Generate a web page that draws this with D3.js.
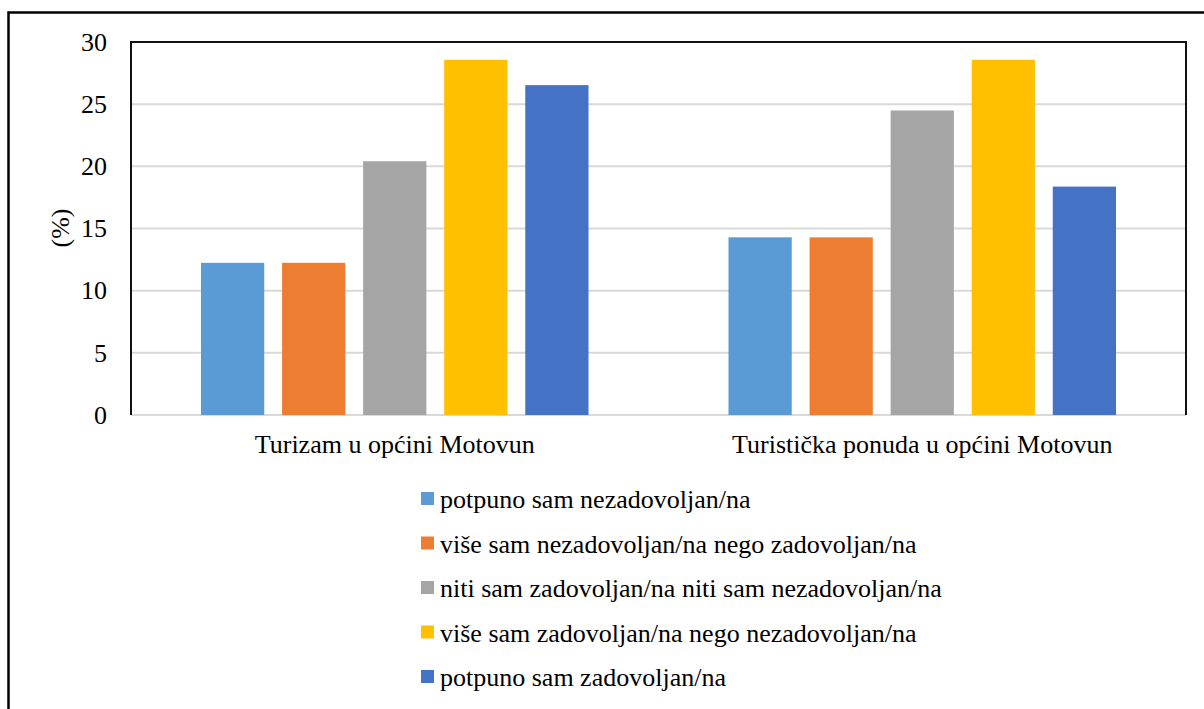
<!DOCTYPE html>
<html>
<head>
<meta charset="utf-8">
<script src="https://cdn.jsdelivr.net/npm/d3@7"></script>
<style>
  body { margin: 0; background: #fff; }
  text { font-family: "Liberation Serif", "Times New Roman", serif; fill: #000; }
</style>
</head>
<body>
<script>
let categories = ['Turizam u općini Motovun', 'Turistička ponuda u općini Motovun']
let seriesNames = [
  'potpuno sam nezadovoljan/na',
  'više sam nezadovoljan/na nego zadovoljan/na',
  'niti sam zadovoljan/na niti sam nezadovoljan/na',
  'više sam zadovoljan/na nego nezadovoljan/na',
  'potpuno sam zadovoljan/na'
]
let turizam = [12.24, 12.24, 20.41, 28.57, 26.53]
let ponuda = [14.29, 14.29, 24.49, 28.57, 18.37]
let yTicks = [0, 5, 10, 15, 20, 25, 30]
let colors = ['#5b9bd5', '#ed7d31', '#a5a5a5', '#ffc000', '#4472c4']

let values = [turizam, ponuda]

let w = 1204
let h = 709
let plotLeft = 131, plotRight = 1186, plotTop = 42, plotBottom = 415

let svg = d3.select('body').append('svg').attr('width', w).attr('height', h)

// outer frame
svg.append('rect').attr('x', 8.5).attr('y', 12.5).attr('width', 1200).attr('height', 720)
  .attr('fill', 'none').attr('stroke', '#000').attr('stroke-width', 2.5)

let x0 = d3.scaleBand().domain(categories).range([plotLeft, plotRight])
let x1 = d3.scaleBand().domain(d3.range(seriesNames.length))
  .range([70, x0.bandwidth() - 70]).paddingInner(0.22)
let y = d3.scaleLinear().domain([0, 30]).range([plotBottom, plotTop])
let color = d3.scaleOrdinal().domain(d3.range(5)).range(colors)

// gridlines
svg.append('g').selectAll('line').data(yTicks).enter().append('line')
  .attr('x1', plotLeft).attr('x2', plotRight)
  .attr('y1', d => y(d)).attr('y2', d => y(d))
  .attr('stroke', '#d9d9d9').attr('stroke-width', 2)

// bars
let groups = svg.selectAll('g.cat').data(categories).enter().append('g')
  .attr('class', 'cat')
  .attr('transform', d => 'translate(' + x0(d) + ',0)')

groups.selectAll('rect').data((d, i) => values[i]).enter().append('rect')
  .attr('x', (d, i) => x1(i))
  .attr('width', x1.bandwidth())
  .attr('y', d => y(d))
  .attr('height', d => y(0) - y(d))
  .attr('fill', (d, i) => color(i))

// plot frame (left, top, right)
svg.append('path')
  .attr('d', 'M' + plotLeft + ',' + plotBottom + 'V' + plotTop + 'H' + plotRight + 'V' + plotBottom)
  .attr('fill', 'none').attr('stroke', '#111').attr('stroke-width', 2)

// y axis
let yAxis = svg.append('g').attr('transform', 'translate(' + plotLeft + ',0)')
  .call(d3.axisLeft(y).tickValues(yTicks).tickSize(0).tickPadding(24))
yAxis.select('.domain').remove()
yAxis.selectAll('text').style('font-size', '26px')
  .style('font-family', '"Liberation Serif", serif').attr('fill', '#000')

svg.append('text')
  .attr('transform', 'translate(69,228) rotate(-90)')
  .attr('text-anchor', 'middle')
  .style('font-size', '26px')
  .text('(%)')

// x axis
let xAxis = svg.append('g').attr('transform', 'translate(0,' + plotBottom + ')')
  .call(d3.axisBottom(x0).tickSize(0).tickPadding(20))
xAxis.select('.domain').remove()
xAxis.selectAll('text').style('font-size', '26px')
  .style('font-family', '"Liberation Serif", serif').attr('fill', '#000')

// legend
let legend = svg.selectAll('g.legend').data(seriesNames).enter().append('g')
  .attr('class', 'legend')
  .attr('transform', (d, i) => 'translate(421,' + (499 + i * 44.5) + ')')

legend.append('rect').attr('x', 0).attr('y', -7).attr('width', 13).attr('height', 13)
  .attr('fill', (d, i) => color(i))
legend.append('text').attr('x', 19).attr('y', 9)
  .style('font-size', '26px')
  .text(d => d)
</script>
</body>
</html>
